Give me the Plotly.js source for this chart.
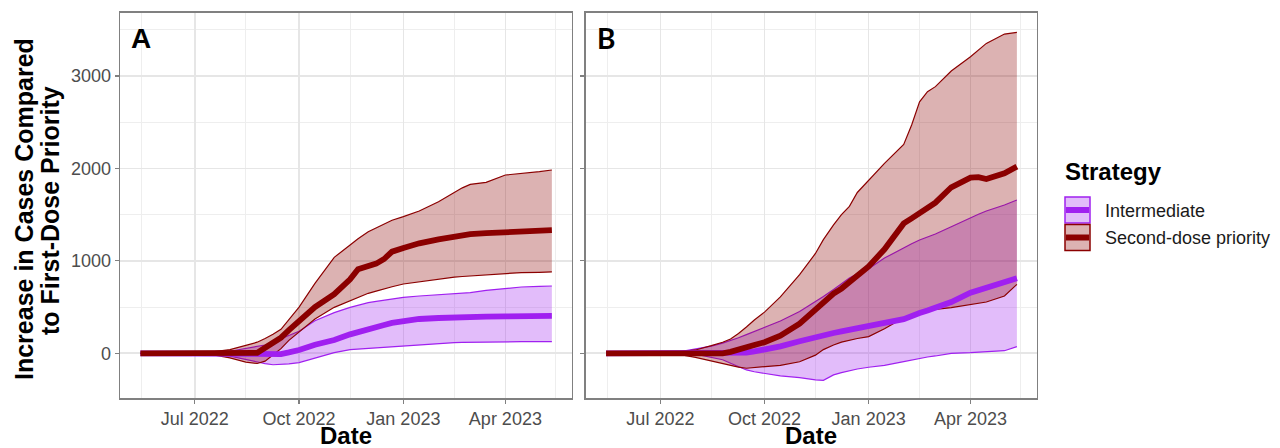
<!DOCTYPE html>
<html>
<head>
<meta charset="utf-8">
<script src="https://cdn.plot.ly/plotly-3.0.1.min.js"></script>
<style>
  html, body { margin: 0; padding: 0; background: #ffffff; }
  #chart { width: 1280px; height: 448px; }
</style>
</head>
<body>
<div id="chart"></div>
<script>
// ---------------- DATA ----------------
const dates = ['2022-05-14','2022-06-01','2022-06-15','2022-07-01','2022-07-15','2022-08-01','2022-08-15','2022-08-25',
  '2022-09-01','2022-09-08','2022-09-15','2022-09-22','2022-10-01','2022-10-15','2022-11-01','2022-11-15','2022-11-22',
  '2022-12-01','2022-12-08','2022-12-15','2022-12-22','2023-01-01','2023-01-15','2023-02-01','2023-02-08','2023-02-15',
  '2023-02-22','2023-03-01','2023-03-15','2023-04-01','2023-04-08','2023-04-15','2023-05-01','2023-05-12'];

const strategies = ['Intermediate', 'Second-dose priority'];
const panelLabels = ['A', 'B'];

// Panel A
const aSecondMid = [0,0,0,0,0,0,-8,5,60,110,170,250,340,500,640,800,910,940,970,1020,1100,1140,1190,1233,1250,1268,1282,1290,1300,1308,1310,1312,1320,1332];
const aSecondHi  = [0,0,0,2,12,40,85,120,160,205,260,360,500,757,1038,1171,1240,1316,1360,1399,1440,1478,1540,1640,1690,1741,1790,1828,1850,1929,1937,1943,1965,1983];
const aSecondLo  = [0,0,0,-2,-12,-50,-95,-110,-85,-20,50,140,232,371,497,569,610,649,672,692,720,750,775,800,812,825,831,836,851,865,869,873,876,880];
const aInterMid  = [0,0,0,0,0,-3,-10,-15,-15,-12,-8,10,36,93,144,205,232,259,283,306,328,349,371,382,386,389,391,393,396,400,402,404,404,404];
const aInterHi   = [0,0,0,1,6,22,55,75,90,122,158,195,238,353,440,497,522,548,561,573,588,605,620,634,640,645,651,656,681,703,710,717,724,728];
const aInterLo   = [0,0,0,-1,-6,-30,-70,-100,-112,-124,-123,-115,-101,-51,7,39,45,50,60,68,73,79,90,104,110,115,117,119,122,122,124,126,126,126];

// Panel B
const bSecondMid = [0,0,0,0,0,0,-5,0,15,35,60,90,120,190,320,480,560,645,700,775,850,940,1125,1405,1460,1514,1560,1630,1796,1900,1905,1885,1947,2020];
const bSecondHi  = [0,0,0,2,10,36,83,120,155,215,285,360,445,610,850,1080,1230,1390,1500,1590,1740,1870,2055,2260,2470,2720,2830,2885,3054,3209,3280,3353,3454,3472];
const bSecondLo  = [0,0,0,-2,-7,-44,-85,-115,-135,-150,-162,-155,-145,-130,-92,-20,40,90,120,140,160,180,265,385,420,440,458,475,495,525,540,555,620,745];
const bInterMid  = [0,0,0,0,0,0,0,0,0,2,7,20,40,75,130,177,197,220,237,252,268,285,328,370,395,435,462,495,555,655,680,710,770,811];
const bInterHi   = [0,0,0,3,10,45,78,110,135,168,202,238,277,350,452,555,615,690,755,815,860,915,1030,1143,1185,1226,1258,1291,1370,1471,1505,1540,1604,1659];
const bInterLo   = [0,0,0,-2,-6,-10,-45,-70,-108,-145,-180,-200,-216,-245,-263,-288,-292,-234,-210,-188,-170,-151,-130,-90,-72,-54,-40,-29,0,7,10,14,28,72];

const yTickVals = [0, 1000, 2000, 3000];

// ---------------- STYLE ----------------
const W = 1280, H = 448;
const PURPLE = '#A020F0', PURPLE_FILL = 'rgba(160,32,240,0.3)';
const RED = '#8B0000', RED_FILL = 'rgba(139,0,0,0.3)';
const FONT = 'Liberation Sans, Arial, Helvetica, sans-serif';
const px = v => v / W;
const py = v => 1 - v / H;

function bandTraces(xa, ya, lo, hi, color, fill) {
  return [
    {x: dates, y: lo, xaxis: xa, yaxis: ya, type: 'scatter', mode: 'lines',
     line: {color: color, width: 1.2}, hoverinfo: 'skip', showlegend: false},
    {x: dates, y: hi, xaxis: xa, yaxis: ya, type: 'scatter', mode: 'lines', fill: 'tonexty',
     fillcolor: fill, line: {color: color, width: 1.2}, hoverinfo: 'skip', showlegend: false}
  ];
}
function midTrace(xa, ya, mid, color) {
  return {x: dates, y: mid, xaxis: xa, yaxis: ya, type: 'scatter', mode: 'lines',
          line: {color: color, width: 5.8}, hoverinfo: 'skip', showlegend: false};
}

const traces = [].concat(
  bandTraces('x', 'y', aInterLo, aInterHi, PURPLE, PURPLE_FILL),
  bandTraces('x', 'y', aSecondLo, aSecondHi, RED, RED_FILL),
  [midTrace('x', 'y', aInterMid, PURPLE), midTrace('x', 'y', aSecondMid, RED)],
  bandTraces('x2', 'y2', bInterLo, bInterHi, PURPLE, PURPLE_FILL),
  bandTraces('x2', 'y2', bSecondLo, bSecondHi, RED, RED_FILL),
  [midTrace('x2', 'y2', bInterMid, PURPLE), midTrace('x2', 'y2', bSecondMid, RED)]
);

const xRange = ['2022-04-26', '2023-05-29 12:00'];
const yRange = [-487, 3685];
const yDom = [py(398.3), py(12.7)];

function xAxis(dom) {
  return {
    domain: dom, range: xRange, type: 'date',
    tick0: '2022-01-01', dtick: 'M3', tickformat: '%b %Y',
    showgrid: true, gridcolor: '#E6E6E6', gridwidth: 1.7,
    minor: {tick0: '2022-02-15', dtick: 'M3', showgrid: true, gridcolor: '#EEEEEE', gridwidth: 1, ticks: ''},
    showline: true, mirror: true, linecolor: '#808080', linewidth: 1.3,
    ticks: 'outside', ticklen: 4, tickcolor: '#808080', tickwidth: 1.2,
    tickfont: {family: FONT, size: 18, color: '#4D4D4D'},
    zeroline: false, fixedrange: true
  };
}
function yAxis(anchor, labels) {
  return {
    domain: yDom, range: yRange, anchor: anchor,
    tickvals: yTickVals, ticktext: yTickVals.map(String), showticklabels: labels,
    showgrid: true, gridcolor: '#E6E6E6', gridwidth: 1.7,
    minor: {tick0: 0, dtick: 500, showgrid: true, gridcolor: '#EEEEEE', gridwidth: 1, ticks: ''},
    showline: true, mirror: true, linecolor: '#808080', linewidth: 1.3,
    ticks: 'outside', ticklen: 4, tickcolor: '#808080', tickwidth: 1.2,
    tickfont: {family: FONT, size: 18, color: '#4D4D4D'},
    zeroline: false, fixedrange: true
  };
}

const annotations = [
  // y-axis title (two rotated lines)
  {text: 'Increase in Cases Compared', x: px(24), y: py(209), xref: 'paper', yref: 'paper', textangle: -90,
   showarrow: false, xanchor: 'center', yanchor: 'middle', font: {family: FONT, size: 25, color: '#000', weight: 'bold'}},
  {text: 'to First-Dose Priority', x: px(50), y: py(211), xref: 'paper', yref: 'paper', textangle: -90,
   showarrow: false, xanchor: 'center', yanchor: 'middle', font: {family: FONT, size: 25, color: '#000', weight: 'bold'}},
  // x-axis titles
  {text: 'Date', x: px(345.9), y: py(435), xref: 'paper', yref: 'paper', showarrow: false,
   xanchor: 'center', yanchor: 'middle', font: {family: FONT, size: 24, color: '#000', weight: 'bold'}},
  {text: 'Date', x: px(811.2), y: py(435), xref: 'paper', yref: 'paper', showarrow: false,
   xanchor: 'center', yanchor: 'middle', font: {family: FONT, size: 24, color: '#000', weight: 'bold'}},
  // panel labels
  {text: panelLabels[0], x: px(129), y: py(38.3), xref: 'paper', yref: 'paper', showarrow: false,
   xanchor: 'left', yanchor: 'middle', font: {family: FONT, size: 28, color: '#000', weight: 'bold'}},
  {text: panelLabels[1], x: px(595), y: py(38.3), xref: 'paper', yref: 'paper', showarrow: false,
   xanchor: 'left', yanchor: 'middle', font: {family: 'Lato, ' + FONT, size: 28, color: '#000', weight: 'bold'}},
  // legend
  {text: 'Strategy', x: px(1063), y: py(171.6), xref: 'paper', yref: 'paper', showarrow: false,
   xanchor: 'left', yanchor: 'middle', font: {family: FONT, size: 24, color: '#000', weight: 'bold'}},
  {text: strategies[0], x: px(1103), y: py(211), xref: 'paper', yref: 'paper', showarrow: false,
   xanchor: 'left', yanchor: 'middle', font: {family: FONT, size: 18, color: '#1a1a1a'}},
  {text: strategies[1], x: px(1103), y: py(238), xref: 'paper', yref: 'paper', showarrow: false,
   xanchor: 'left', yanchor: 'middle', font: {family: FONT, size: 18, color: '#1a1a1a'}}
];

function legendKey(y0, y1, color, fill) {
  const ym = (y0 + y1) / 2;
  return [
    {type: 'rect', xref: 'paper', yref: 'paper', x0: px(1065), x1: px(1090), y0: py(y1), y1: py(y0),
     fillcolor: fill, line: {color: color, width: 1.5}},
    {type: 'line', xref: 'paper', yref: 'paper', x0: px(1066), x1: px(1089), y0: py(ym), y1: py(ym),
     line: {color: color, width: 6}}
  ];
}
const shapes = [].concat(
  legendKey(197, 223, PURPLE, PURPLE_FILL),
  legendKey(224.5, 250.5, RED, RED_FILL)
);

const layout = {
  width: W, height: H,
  margin: {l: 0, r: 0, t: 0, b: 0},
  paper_bgcolor: '#ffffff', plot_bgcolor: '#ffffff',
  showlegend: false,
  font: {family: FONT},
  xaxis: xAxis([px(120), px(571.7)]),
  yaxis: yAxis('x', true),
  xaxis2: xAxis([px(585.7), px(1036.7)]),
  yaxis2: yAxis('x2', false),
  annotations: annotations,
  shapes: shapes
};
layout.xaxis.anchor = 'y';
layout.xaxis2.anchor = 'y2';

Plotly.newPlot('chart', traces, layout, {displayModeBar: false, staticPlot: true});
</script>
</body>
</html>
